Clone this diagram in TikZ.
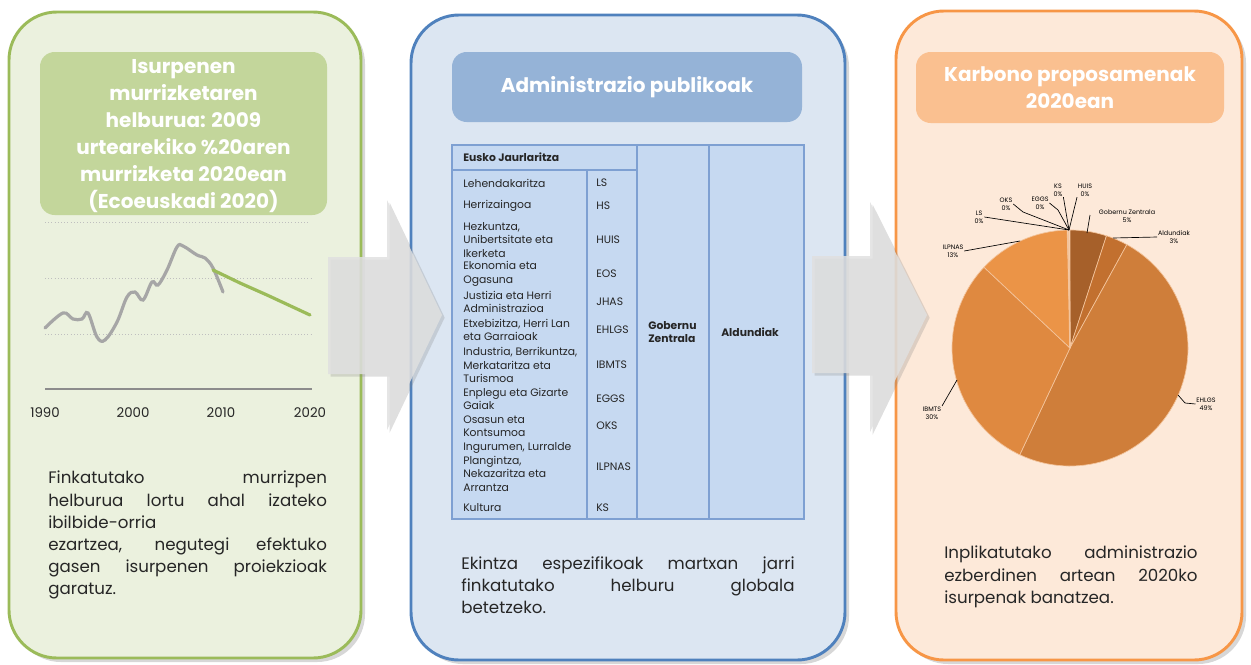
\documentclass[tikz,border=0pt]{standalone}
\usepackage{fontspec}
\setmainfont{Poppins}
\usetikzlibrary{shadows,positioning}
\definecolor{grnline}{HTML}{9BBB59}
\definecolor{grnfill}{HTML}{EBF1DE}
\definecolor{grnhead}{HTML}{C3D69B}
\definecolor{bluline}{HTML}{4F81BD}
\definecolor{blufill}{HTML}{DCE6F2}
\definecolor{bluhead}{HTML}{95B3D7}
\definecolor{tabfill}{HTML}{C6D9F1}
\definecolor{tabline}{HTML}{7EA0D2}
\definecolor{orgline}{HTML}{F79646}
\definecolor{orgfill}{HTML}{FDE9D9}
\definecolor{orghead}{HTML}{FAC090}
\definecolor{pieGZ}{HTML}{A6602A}
\definecolor{pieAL}{HTML}{C2702F}
\definecolor{pieEH}{HTML}{CF7E3A}
\definecolor{pieIB}{HTML}{DF8940}
\definecolor{pieIL}{HTML}{EB9447}
\definecolor{piesep}{HTML}{F3C49C}
\definecolor{txt}{HTML}{262626}
\begin{document}
\begin{tikzpicture}[x=0.75pt,y=-0.75pt,
    panel/.style={line width=2.2pt,rounded corners=36pt,
        drop shadow={shadow xshift=3pt,shadow yshift=-3pt,opacity=.35,fill=black!45}},
    headbox/.style={rounded corners=11pt},
    headtxt/.style={text=white,font=\bfseries\fontsize{15}{20.3}\selectfont,align=center},
    bodytxt/.style={text=txt,font=\fontsize{12.5}{16.6}\selectfont,align=justify,anchor=north west,inner sep=0pt},
    tabtxt/.style={text=txt,font=\fontsize{8.1}{10.1}\selectfont,align=left,anchor=west,inner sep=0pt},
    tabbold/.style={tabtxt,font=\bfseries\fontsize{8.1}{10.1}\selectfont},
    yeartxt/.style={text=txt,font=\fontsize{10}{12}\selectfont},
    pietxt/.style={text=black,font=\fontsize{4.8}{5.8}\selectfont,align=center,inner sep=0.5pt},
    bigarrow/.style={fill=black!12,opacity=.85,
        drop shadow={shadow xshift=2pt,shadow yshift=-2pt,opacity=.25,fill=black!50}},
    leader/.style={black,line width=0.5pt}]
            \useasboundingbox (0,0) rectangle (1251,664);
            \def\pr{118}
            % panels
            \filldraw[panel,draw=grnline,fill=grnfill] (9,12) rectangle (361,658);
            \filldraw[panel,draw=bluline,fill=blufill] (411,15) rectangle (845,660);
            \filldraw[panel,draw=orgline,fill=orgfill] (896,11) rectangle (1242,660);
            % headers
            \fill[headbox,grnhead] (40,52) rectangle (327,215);
            \node[headtxt] (hleft) at (183.5,136) {Isurpenen\\murrizketaren\\helburua: 2009\\urtearekiko \%20aren\\murrizketa 2020ean\\(Ecoeuskadi 2020)};
            \fill[headbox,bluhead] (452,52) rectangle (802,122);
            \node[headtxt] (hmid) at (627,87) {Administrazio publikoak};
            \fill[headbox,orghead] (916,52) rectangle (1224,123);
            \node[headtxt] (hright) at (1070,88) {Karbono proposamenak\\2020ean};
            % chart
            \draw[black!25,dotted] (45,222) -- (310,222);
            \draw[black!25,dotted] (45,278) -- (312,278) (45,334) -- (312,334);
            \draw[black!45,line width=0.8pt] (45,389) -- (312,389);
            \foreach \yr/\xx in {1990/45,2000/133,2010/221,2020/310}
                \node[yeartxt] (y\yr) at (\xx,413) {\yr};
            \draw[black!35,line width=2.4pt,line cap=round,smooth,tension=0.6] plot coordinates {(45,328) (63,313) (73,319) (82,319) (88,313) (97,337) (105,340) (117,322) (127,297) (135,292) (143,300) (152,282) (158,285) (167,270) (177,247) (183,246) (197,255) (205,258) (213,268) (223,292)};
            \draw[grnline,line width=2.4pt,line cap=round] (213,270) -- (240,283) -- (267,295) -- (310,315);
            % table
            \filldraw[fill=tabfill,draw=tabline,line width=0.8pt] (452,145) rectangle (804,519);
            \draw[tabline,line width=0.8pt] (452,170) -- (637,170) (587,170) -- (587,519)
                (637,145) -- (637,519) (709,145) -- (709,519);
            \node[tabbold] (eusko) at (463,157) {Eusko Jaurlaritza};
            \foreach \yy/\nm/\cd in {183/Lehendakaritza/LS, 206/Herrizaingoa/HS,
                    240/{Hezkuntza,\\Unibertsitate eta\\Ikerketa}/HUIS, 274/{Ekonomia eta\\Ogasuna}/EOS,
                    302/{Justizia eta Herri\\Administrazioa}/JHAS, 330/{Etxebizitza, Herri Lan\\eta Garraioak}/EHLGS,
                    365/{Industria, Berrikuntza,\\Merkataritza eta\\Turismoa}/IBMTS, 399/{Enplegu eta Gizarte\\Gaiak}/EGGS,
                    426/{Osasun eta\\Kontsumoa}/OKS, 467/{Ingurumen, Lurralde\\Plangintza,\\Nekazaritza eta\\Arrantza}/ILPNAS,
                    508/Kultura/KS}{
                \node[tabtxt] (n\cd) at (463,\yy) {\nm};
                \node[tabtxt] (c\cd) at (596,\yy) {\cd};
            }
            \node[tabbold] (gobernu) at (648,332) {Gobernu\\Zentrala};
            \node[tabbold] (aldundi) at (721,332) {Aldundiak};
            % pie
            \coordinate (pc) at (1070,348);
            \begin{scope}[draw=piesep,line width=0.5pt]
                \filldraw[fill=pieGZ] (pc) -- ++(-90:\pr) arc[start angle=-90,end angle=-72,radius=\pr] -- cycle;
                \filldraw[fill=pieAL] (pc) -- ++(-72:\pr) arc[start angle=-72,end angle=-61.2,radius=\pr] -- cycle;
                \filldraw[fill=pieEH] (pc) -- ++(-61.2:\pr) arc[start angle=-61.2,end angle=115.2,radius=\pr] -- cycle;
                \filldraw[fill=pieIB] (pc) -- ++(115.2:\pr) arc[start angle=115.2,end angle=223.2,radius=\pr] -- cycle;
                \filldraw[fill=pieIL] (pc) -- ++(223.2:\pr) arc[start angle=223.2,end angle=268.6,radius=\pr] -- cycle;
                \draw[line width=1.2pt] (pc) -- ++(269.3:\pr);
            \end{scope}
            \node[pietxt] (lGZ) at (1127,216) {Gobernu Zentrala\\5\%};
            \node[pietxt] (lAL) at (1174,237) {Aldundiak\\3\%};
            \node[pietxt] (lHU) at (1085,190) {HUIS\\0\%};
            \node[pietxt] (lKS) at (1058,190) {KS\\0\%};
            \node[pietxt] (lEG) at (1040,203) {EGGS\\0\%};
            \node[pietxt] (lOK) at (1006,204) {OKS\\0\%};
            \node[pietxt] (lLS) at (979,217) {LS\\0\%};
            \node[pietxt] (lIL) at (953,251) {ILPNAS\\13\%};
            \node[pietxt] (lIB) at (932,413) {IBMTS\\30\%};
            \node[pietxt] (lEH) at (1206,404) {EHLGS\\49\%};
            \coordinate (pGZ) at (1087,233);
            \coordinate (pAL) at (1113,238);
            \coordinate (pT) at (1069,230);
            \coordinate (pIL) at (1020,241);
            \coordinate (pIB) at (957,380);
            \coordinate (pEH) at (1178,395);
            \draw[leader] (pGZ) -- (1090,215);
            \draw[leader] (pAL) -- (lAL.west);
            \draw[leader] (pT) -- (lHU.south west);
            \draw[leader] (pT) -- (lKS.south east);
            \draw[leader] (pT) -- (1058,210) -- (lEG.east);
            \draw[leader] (pT) -- (1023,212) -- (lOK.east);
            \draw[leader] (pT) -- (lLS.east);
            \draw[leader] (pIL) -- (lIL.east);
            \draw[leader] (pIB) -- (lIB.north east);
            \draw[leader] (pEH) -- (1185,403) -- (lEH.west);
            % body texts
            \node[bodytxt,text width=209pt] (tleft) at (48,471) {Finkatutako murrizpen\linebreak helburua lortu ahal izateko\linebreak ibilbide-orria\newline ezartzea, negutegi efektuko\linebreak gasen isurpenen proiekzioak\linebreak garatuz.};
            \node[bodytxt,text width=250pt] (tmid) at (461,556) {Ekintza espezifikoak martxan jarri\linebreak finkatutako helburu globala\linebreak betetzeko.};
            \node[bodytxt,text width=190pt] (tright) at (944,546) {Inplikatutako administrazio\linebreak ezberdinen artean 2020ko\linebreak isurpenak banatzea.};
            % arrows
            \fill[bigarrow] (328,257) -- (387,257) -- (387,200) -- (442,315) -- (387,430) -- (387,374) -- (328,374) -- cycle;
            \fill[bigarrow] (812,256) -- (870,256) -- (870,202) -- (927,315) -- (870,432) -- (870,373) -- (812,373) -- cycle;
        \end{tikzpicture}
\end{document}
